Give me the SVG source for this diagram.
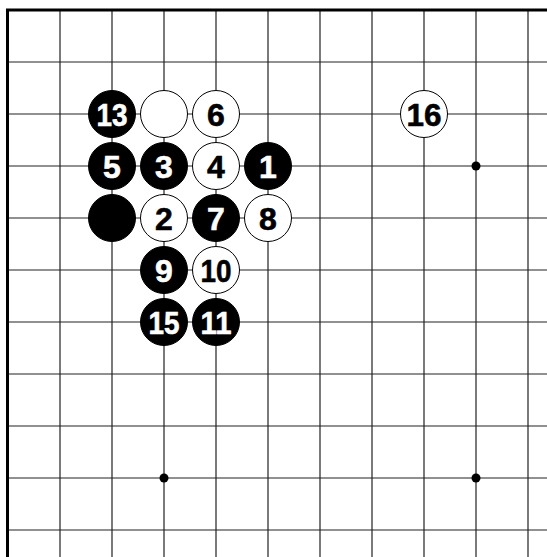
<svg xmlns="http://www.w3.org/2000/svg" width="547" height="557" viewBox="0 0 547 557">
<style>
.g{stroke:#222;stroke-width:1.2;fill:none}
.b{fill:#000;stroke:#000;stroke-width:1}
.w{fill:#fff;stroke:#000;stroke-width:1}
.t{font-family:"Liberation Sans",Arial,sans-serif;font-weight:bold;font-size:32px;text-anchor:middle;stroke-width:0.6}
.tb{fill:#fff;stroke:#fff}
.tw{fill:#000;stroke:#000}
</style>
<rect width="547" height="557" fill="#fff"/>
<g id="grid">
<path class="g" d="M60 10V557M112 10V557M164 10V557M216 10V557M268 10V557M320 10V557M372 10V557M424 10V557M476 10V557M528 10V557"/>
<path class="g" d="M7 62H547M7 114H547M7 166H547M7 218H547M7 270H547M7 322H547M7 374H547M7 426H547M7 478H547M7 530H547"/>
<path d="M7.5 557V10H547" fill="none" stroke="#000" stroke-width="3"/>
<circle cx="476" cy="166" r="4.5"/>
<circle cx="164" cy="478" r="4.5"/>
<circle cx="476" cy="478" r="4.5"/>
</g>
<g id="s13"><circle class="b" cx="112" cy="114" r="23.5"/><text class="t tb" x="112" y="125.5" textLength="31" lengthAdjust="spacingAndGlyphs">13</text></g>
<g id="sw1"><circle class="w" cx="164" cy="114" r="23.5"/></g>
<g id="s6"><circle class="w" cx="216" cy="114" r="23.5"/><text class="t tw" x="216" y="125.5">6</text></g>
<g id="s16"><circle class="w" cx="424" cy="114" r="23.5"/><text class="t tw" x="424" y="125.5" textLength="35" lengthAdjust="spacingAndGlyphs">16</text></g>
<g id="s5"><circle class="b" cx="112" cy="166" r="23.5"/><text class="t tb" x="112" y="177.5">5</text></g>
<g id="s3"><circle class="b" cx="164" cy="166" r="23.5"/><text class="t tb" x="164" y="177.5">3</text></g>
<g id="s4"><circle class="w" cx="216" cy="166" r="23.5"/><text class="t tw" x="216" y="177.5">4</text></g>
<g id="s1"><circle class="b" cx="268" cy="166" r="23.5"/><text class="t tb" x="268" y="177.5">1</text></g>
<g id="sb1"><circle class="b" cx="112" cy="218" r="23.5"/></g>
<g id="s2"><circle class="w" cx="164" cy="218" r="23.5"/><text class="t tw" x="164" y="229.5">2</text></g>
<g id="s7"><circle class="b" cx="216" cy="218" r="23.5"/><text class="t tb" x="216" y="229.5">7</text></g>
<g id="s8"><circle class="w" cx="268" cy="218" r="23.5"/><text class="t tw" x="268" y="229.5">8</text></g>
<g id="s9"><circle class="b" cx="164" cy="270" r="23.5"/><text class="t tb" x="164" y="281.5">9</text></g>
<g id="s10"><circle class="w" cx="216" cy="270" r="23.5"/><text class="t tw" x="216" y="281.5" textLength="31" lengthAdjust="spacingAndGlyphs">10</text></g>
<g id="s15"><circle class="b" cx="164" cy="322" r="23.5"/><text class="t tb" x="164" y="333.5" textLength="31" lengthAdjust="spacingAndGlyphs">15</text></g>
<g id="s11"><circle class="b" cx="216" cy="322" r="23.5"/><text class="t tb" x="216" y="333.5" textLength="31" lengthAdjust="spacingAndGlyphs">11</text></g>
</svg>
